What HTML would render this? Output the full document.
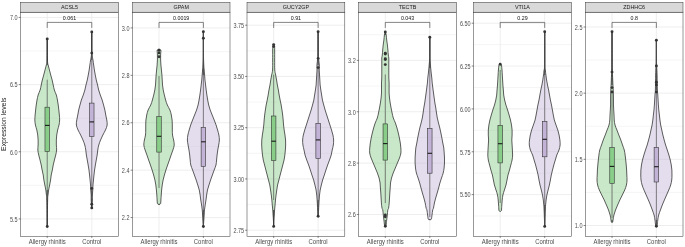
<!DOCTYPE html><html><head><meta charset="utf-8"><style>html,body{margin:0;padding:0;background:#fff;width:685px;height:247px;overflow:hidden}svg{display:block;will-change:transform}</style></head><body>
<svg width="685" height="247" viewBox="0 0 685 247" font-family='"Liberation Sans", sans-serif'>
<rect width="685" height="247" fill="#fff"/>
<text x="6.0" y="124.3" transform="rotate(-90 6.0 124.3)" text-anchor="middle" font-size="6.85" fill="#1a1a1a">Expression levels</text>
<line x1="20.50" x2="118.50" y1="51.03" y2="51.03" stroke="#ebebeb" stroke-width="0.5"/>
<line x1="20.50" x2="118.50" y1="118.18" y2="118.18" stroke="#ebebeb" stroke-width="0.5"/>
<line x1="20.50" x2="118.50" y1="185.32" y2="185.32" stroke="#ebebeb" stroke-width="0.5"/>
<line x1="20.50" x2="118.50" y1="17.45" y2="17.45" stroke="#ebebeb" stroke-width="0.85"/>
<line x1="20.50" x2="118.50" y1="84.60" y2="84.60" stroke="#ebebeb" stroke-width="0.85"/>
<line x1="20.50" x2="118.50" y1="151.75" y2="151.75" stroke="#ebebeb" stroke-width="0.85"/>
<line x1="20.50" x2="118.50" y1="218.90" y2="218.90" stroke="#ebebeb" stroke-width="0.85"/>
<line x1="47.23" x2="47.23" y1="12.20" y2="236.30" stroke="#ebebeb" stroke-width="0.85"/>
<line x1="91.77" x2="91.77" y1="12.20" y2="236.30" stroke="#ebebeb" stroke-width="0.85"/>
<path d="M47.23,38.90 C47.27,42.42 47.33,55.65 47.48,60.00 C47.63,64.35 47.80,63.33 48.13,65.00 C48.45,66.67 48.99,68.33 49.43,70.00 C49.86,71.67 50.28,73.33 50.73,75.00 C51.18,76.67 51.71,78.33 52.13,80.00 C52.54,81.67 52.86,83.33 53.23,85.00 C53.59,86.67 53.81,88.33 54.33,90.00 C54.84,91.67 55.81,93.33 56.33,95.00 C56.84,96.67 57.11,98.33 57.43,100.00 C57.74,101.67 57.99,103.33 58.23,105.00 C58.46,106.67 58.64,108.33 58.83,110.00 C59.01,111.67 59.19,113.33 59.33,115.00 C59.46,116.67 59.68,118.33 59.63,120.00 C59.58,121.67 59.36,123.33 59.03,125.00 C58.69,126.67 58.01,128.33 57.63,130.00 C57.24,131.67 56.94,133.33 56.73,135.00 C56.51,136.67 56.39,138.33 56.33,140.00 C56.26,141.67 56.28,143.33 56.33,145.00 C56.38,146.67 56.73,148.33 56.63,150.00 C56.53,151.67 56.09,153.33 55.73,155.00 C55.36,156.67 54.84,158.33 54.43,160.00 C54.01,161.67 53.58,163.33 53.23,165.00 C52.88,166.67 52.66,168.33 52.33,170.00 C51.99,171.67 51.52,173.33 51.23,175.00 C50.94,176.67 50.84,178.33 50.58,180.00 C50.31,181.67 49.95,183.33 49.63,185.00 C49.30,186.67 48.89,188.33 48.63,190.00 C48.36,191.67 48.19,193.33 48.03,195.00 C47.86,196.67 47.76,194.75 47.63,200.00 C47.49,205.25 47.29,222.08 47.23,226.50 L47.23,226.50 C47.16,222.08 46.96,205.25 46.83,200.00 C46.69,194.75 46.59,196.67 46.43,195.00 C46.26,193.33 46.09,191.67 45.83,190.00 C45.56,188.33 45.15,186.67 44.83,185.00 C44.50,183.33 44.14,181.67 43.88,180.00 C43.61,178.33 43.52,176.67 43.23,175.00 C42.94,173.33 42.46,171.67 42.13,170.00 C41.79,168.33 41.58,166.67 41.23,165.00 C40.88,163.33 40.44,161.67 40.03,160.00 C39.61,158.33 39.09,156.67 38.73,155.00 C38.36,153.33 37.93,151.67 37.83,150.00 C37.73,148.33 38.08,146.67 38.13,145.00 C38.18,143.33 38.19,141.67 38.13,140.00 C38.06,138.33 37.94,136.67 37.73,135.00 C37.51,133.33 37.21,131.67 36.83,130.00 C36.44,128.33 35.76,126.67 35.43,125.00 C35.09,123.33 34.88,121.67 34.83,120.00 C34.78,118.33 34.99,116.67 35.13,115.00 C35.26,113.33 35.44,111.67 35.63,110.00 C35.81,108.33 35.99,106.67 36.23,105.00 C36.46,103.33 36.71,101.67 37.03,100.00 C37.34,98.33 37.61,96.67 38.13,95.00 C38.64,93.33 39.61,91.67 40.13,90.00 C40.64,88.33 40.86,86.67 41.23,85.00 C41.59,83.33 41.91,81.67 42.33,80.00 C42.74,78.33 43.28,76.67 43.73,75.00 C44.18,73.33 44.59,71.67 45.03,70.00 C45.46,68.33 46.00,66.67 46.33,65.00 C46.65,63.33 46.83,64.35 46.98,60.00 C47.13,55.65 47.19,42.42 47.23,38.90 Z" fill="#7fc97f" fill-opacity="0.42" stroke="#333333" stroke-width="0.8"/>
<line x1="47.23" x2="47.23" y1="38.90" y2="65.00" stroke="#333333" stroke-width="0.9"/>
<line x1="47.23" x2="47.23" y1="190.00" y2="226.50" stroke="#333333" stroke-width="0.9"/>
<line x1="47.23" x2="47.23" y1="79.70" y2="107.20" stroke="#555555" stroke-width="0.7"/>
<line x1="47.23" x2="47.23" y1="151.40" y2="200.00" stroke="#555555" stroke-width="0.7"/>
<rect x="44.98" y="107.20" width="4.50" height="44.20" fill="#7fc97f" fill-opacity="0.88" stroke="#333333" stroke-width="0.6"/>
<line x1="44.98" x2="49.48" y1="125.40" y2="125.40" stroke="#1a1a1a" stroke-width="1.1"/>
<circle cx="47.23" cy="38.90" r="1.45" fill="#333333"/>
<circle cx="47.23" cy="226.50" r="1.45" fill="#333333"/>
<path d="M91.77,31.90 C91.81,35.42 91.77,48.32 91.97,53.00 C92.17,57.68 92.69,58.00 92.97,60.00 C93.26,62.00 93.44,63.33 93.67,65.00 C93.91,66.67 94.11,68.33 94.37,70.00 C94.64,71.67 94.96,73.33 95.27,75.00 C95.59,76.67 95.89,78.33 96.27,80.00 C96.66,81.67 97.17,83.33 97.57,85.00 C97.97,86.67 98.22,88.33 98.67,90.00 C99.12,91.67 99.69,93.33 100.27,95.00 C100.86,96.67 101.62,98.33 102.17,100.00 C102.72,101.67 103.12,103.33 103.57,105.00 C104.02,106.67 104.51,108.33 104.87,110.00 C105.24,111.67 105.46,113.33 105.77,115.00 C106.09,116.67 106.54,118.33 106.77,120.00 C107.01,121.67 107.39,123.33 107.17,125.00 C106.96,126.67 106.19,128.33 105.47,130.00 C104.76,131.67 103.69,133.33 102.87,135.00 C102.06,136.67 101.26,138.33 100.57,140.00 C99.89,141.67 99.24,143.33 98.77,145.00 C98.31,146.67 98.04,148.33 97.77,150.00 C97.51,151.67 97.42,153.33 97.17,155.00 C96.92,156.67 96.57,158.33 96.27,160.00 C95.97,161.67 95.66,163.33 95.37,165.00 C95.09,166.67 94.81,168.33 94.57,170.00 C94.34,171.67 94.16,173.33 93.97,175.00 C93.79,176.67 93.64,178.33 93.47,180.00 C93.31,181.67 93.09,183.33 92.97,185.00 C92.86,186.67 92.87,188.33 92.77,190.00 C92.67,191.67 92.44,193.33 92.37,195.00 C92.31,196.67 92.47,197.72 92.37,200.00 C92.27,202.28 91.87,207.25 91.77,208.70 L91.77,208.70 C91.67,207.25 91.27,202.28 91.17,200.00 C91.07,197.72 91.24,196.67 91.17,195.00 C91.11,193.33 90.87,191.67 90.77,190.00 C90.67,188.33 90.69,186.67 90.57,185.00 C90.46,183.33 90.24,181.67 90.07,180.00 C89.91,178.33 89.76,176.67 89.57,175.00 C89.39,173.33 89.21,171.67 88.97,170.00 C88.74,168.33 88.46,166.67 88.17,165.00 C87.89,163.33 87.57,161.67 87.27,160.00 C86.97,158.33 86.62,156.67 86.37,155.00 C86.12,153.33 86.04,151.67 85.77,150.00 C85.51,148.33 85.24,146.67 84.77,145.00 C84.31,143.33 83.66,141.67 82.97,140.00 C82.29,138.33 81.49,136.67 80.67,135.00 C79.86,133.33 78.79,131.67 78.07,130.00 C77.36,128.33 76.59,126.67 76.37,125.00 C76.16,123.33 76.54,121.67 76.77,120.00 C77.01,118.33 77.46,116.67 77.77,115.00 C78.09,113.33 78.31,111.67 78.67,110.00 C79.04,108.33 79.52,106.67 79.97,105.00 C80.42,103.33 80.82,101.67 81.37,100.00 C81.92,98.33 82.69,96.67 83.27,95.00 C83.86,93.33 84.42,91.67 84.87,90.00 C85.32,88.33 85.57,86.67 85.97,85.00 C86.37,83.33 86.89,81.67 87.27,80.00 C87.66,78.33 87.96,76.67 88.27,75.00 C88.59,73.33 88.91,71.67 89.17,70.00 C89.44,68.33 89.64,66.67 89.87,65.00 C90.11,63.33 90.29,62.00 90.57,60.00 C90.86,58.00 91.37,57.68 91.57,53.00 C91.77,48.32 91.74,35.42 91.77,31.90 Z" fill="#beaed4" fill-opacity="0.42" stroke="#333333" stroke-width="0.8"/>
<line x1="91.77" x2="91.77" y1="31.90" y2="60.00" stroke="#333333" stroke-width="0.9"/>
<line x1="91.77" x2="91.77" y1="190.00" y2="208.70" stroke="#333333" stroke-width="0.9"/>
<line x1="91.77" x2="91.77" y1="53.10" y2="103.10" stroke="#555555" stroke-width="0.7"/>
<line x1="91.77" x2="91.77" y1="136.40" y2="188.50" stroke="#555555" stroke-width="0.7"/>
<rect x="89.52" y="103.10" width="4.50" height="33.30" fill="#beaed4" fill-opacity="0.88" stroke="#333333" stroke-width="0.6"/>
<line x1="89.52" x2="94.02" y1="121.90" y2="121.90" stroke="#1a1a1a" stroke-width="1.1"/>
<circle cx="91.77" cy="31.90" r="1.45" fill="#333333"/>
<circle cx="91.77" cy="53.10" r="1.45" fill="#333333"/>
<circle cx="91.77" cy="188.50" r="1.45" fill="#333333"/>
<circle cx="91.77" cy="204.30" r="1.45" fill="#333333"/>
<circle cx="91.77" cy="207.90" r="1.45" fill="#333333"/>
<path d="M47.23,27.90 V22.40 H91.77 V27.90" fill="none" stroke="#333333" stroke-width="0.6"/>
<text x="69.50" y="0" transform="translate(0 20.25) scale(1 1.12)" text-anchor="middle" font-size="5.3" fill="#111">0.061</text>
<rect x="20.50" y="12.20" width="98.00" height="224.10" fill="none" stroke="#333333" stroke-width="0.5"/>
<rect x="20.50" y="2.30" width="98.00" height="9.90" fill="#d9d9d9" stroke="#333333" stroke-width="0.5"/>
<text x="69.50" y="9.1" text-anchor="middle" font-size="5.4" fill="#1a1a1a">ACSL5</text>
<line x1="18.70" x2="20.50" y1="17.45" y2="17.45" stroke="#333333" stroke-width="0.6"/>
<text x="17.60" y="0" transform="translate(0 20.20) scale(1 1.200)" text-anchor="end" font-size="5.5" fill="#4d4d4d">7.0</text>
<line x1="18.70" x2="20.50" y1="84.60" y2="84.60" stroke="#333333" stroke-width="0.6"/>
<text x="17.60" y="0" transform="translate(0 87.35) scale(1 1.200)" text-anchor="end" font-size="5.5" fill="#4d4d4d">6.5</text>
<line x1="18.70" x2="20.50" y1="151.75" y2="151.75" stroke="#333333" stroke-width="0.6"/>
<text x="17.60" y="0" transform="translate(0 154.50) scale(1 1.200)" text-anchor="end" font-size="5.5" fill="#4d4d4d">6.0</text>
<line x1="18.70" x2="20.50" y1="218.90" y2="218.90" stroke="#333333" stroke-width="0.6"/>
<text x="17.60" y="0" transform="translate(0 221.65) scale(1 1.200)" text-anchor="end" font-size="5.5" fill="#4d4d4d">5.5</text>
<line x1="47.23" x2="47.23" y1="236.30" y2="237.90" stroke="#333333" stroke-width="0.6"/>
<text x="47.23" y="0" transform="translate(0 243.75) scale(1 1.130)" text-anchor="middle" font-size="5.95" fill="#4d4d4d">Allergy rhinitis</text>
<line x1="91.77" x2="91.77" y1="236.30" y2="237.90" stroke="#333333" stroke-width="0.6"/>
<text x="91.77" y="0" transform="translate(0 243.75) scale(1 1.130)" text-anchor="middle" font-size="5.95" fill="#4d4d4d">Control</text>
<line x1="132.40" x2="230.00" y1="51.61" y2="51.61" stroke="#ebebeb" stroke-width="0.5"/>
<line x1="132.40" x2="230.00" y1="99.03" y2="99.03" stroke="#ebebeb" stroke-width="0.5"/>
<line x1="132.40" x2="230.00" y1="146.45" y2="146.45" stroke="#ebebeb" stroke-width="0.5"/>
<line x1="132.40" x2="230.00" y1="193.87" y2="193.87" stroke="#ebebeb" stroke-width="0.5"/>
<line x1="132.40" x2="230.00" y1="27.90" y2="27.90" stroke="#ebebeb" stroke-width="0.85"/>
<line x1="132.40" x2="230.00" y1="75.32" y2="75.32" stroke="#ebebeb" stroke-width="0.85"/>
<line x1="132.40" x2="230.00" y1="122.74" y2="122.74" stroke="#ebebeb" stroke-width="0.85"/>
<line x1="132.40" x2="230.00" y1="170.16" y2="170.16" stroke="#ebebeb" stroke-width="0.85"/>
<line x1="132.40" x2="230.00" y1="217.58" y2="217.58" stroke="#ebebeb" stroke-width="0.85"/>
<line x1="159.02" x2="159.02" y1="12.20" y2="236.30" stroke="#ebebeb" stroke-width="0.85"/>
<line x1="203.38" x2="203.38" y1="12.20" y2="236.30" stroke="#ebebeb" stroke-width="0.85"/>
<path d="M159.42,49.30 C159.58,49.38 160.17,49.60 160.42,49.80 C160.67,50.00 160.88,49.63 160.92,50.50 C160.95,51.37 160.67,53.42 160.62,55.00 C160.57,56.58 160.57,58.33 160.62,60.00 C160.67,61.67 160.78,63.33 160.92,65.00 C161.05,66.67 161.25,68.33 161.42,70.00 C161.58,71.67 161.78,73.33 161.92,75.00 C162.05,76.67 162.12,78.33 162.22,80.00 C162.32,81.67 162.35,83.33 162.52,85.00 C162.68,86.67 162.92,88.33 163.22,90.00 C163.52,91.67 163.92,93.33 164.32,95.00 C164.72,96.67 165.12,98.33 165.62,100.00 C166.12,101.67 166.60,103.33 167.32,105.00 C168.03,106.67 169.25,108.33 169.92,110.00 C170.58,111.67 170.95,113.33 171.32,115.00 C171.68,116.67 171.95,118.33 172.12,120.00 C172.28,121.67 172.28,123.33 172.32,125.00 C172.35,126.67 172.28,128.33 172.32,130.00 C172.35,131.67 172.30,133.33 172.52,135.00 C172.73,136.67 173.33,138.33 173.62,140.00 C173.90,141.67 174.33,143.33 174.22,145.00 C174.10,146.67 173.43,148.33 172.92,150.00 C172.40,151.67 171.70,153.33 171.12,155.00 C170.53,156.67 170.00,158.33 169.42,160.00 C168.83,161.67 168.20,163.33 167.62,165.00 C167.03,166.67 166.45,168.33 165.92,170.00 C165.38,171.67 164.88,173.33 164.42,175.00 C163.95,176.67 163.48,178.33 163.12,180.00 C162.75,181.67 162.47,183.33 162.22,185.00 C161.97,186.67 161.78,188.33 161.62,190.00 C161.45,191.67 161.33,193.33 161.22,195.00 C161.10,196.67 161.02,198.58 160.92,200.00 C160.82,201.42 160.83,202.75 160.62,203.50 C160.40,204.25 159.78,204.33 159.62,204.50 L158.42,204.50 C158.25,204.33 157.63,204.25 157.42,203.50 C157.20,202.75 157.22,201.42 157.12,200.00 C157.02,198.58 156.93,196.67 156.82,195.00 C156.70,193.33 156.58,191.67 156.42,190.00 C156.25,188.33 156.07,186.67 155.82,185.00 C155.57,183.33 155.28,181.67 154.92,180.00 C154.55,178.33 154.08,176.67 153.62,175.00 C153.15,173.33 152.65,171.67 152.12,170.00 C151.58,168.33 151.00,166.67 150.42,165.00 C149.83,163.33 149.20,161.67 148.62,160.00 C148.03,158.33 147.50,156.67 146.92,155.00 C146.33,153.33 145.63,151.67 145.12,150.00 C144.60,148.33 143.93,146.67 143.82,145.00 C143.70,143.33 144.13,141.67 144.42,140.00 C144.70,138.33 145.30,136.67 145.52,135.00 C145.73,133.33 145.68,131.67 145.72,130.00 C145.75,128.33 145.68,126.67 145.72,125.00 C145.75,123.33 145.75,121.67 145.92,120.00 C146.08,118.33 146.35,116.67 146.72,115.00 C147.08,113.33 147.45,111.67 148.12,110.00 C148.78,108.33 150.00,106.67 150.72,105.00 C151.43,103.33 151.92,101.67 152.42,100.00 C152.92,98.33 153.32,96.67 153.72,95.00 C154.12,93.33 154.52,91.67 154.82,90.00 C155.12,88.33 155.35,86.67 155.52,85.00 C155.68,83.33 155.72,81.67 155.82,80.00 C155.92,78.33 155.98,76.67 156.12,75.00 C156.25,73.33 156.45,71.67 156.62,70.00 C156.78,68.33 156.98,66.67 157.12,65.00 C157.25,63.33 157.37,61.67 157.42,60.00 C157.47,58.33 157.47,56.58 157.42,55.00 C157.37,53.42 157.08,51.37 157.12,50.50 C157.15,49.63 157.37,50.00 157.62,49.80 C157.87,49.60 158.45,49.38 158.62,49.30 Z" fill="#7fc97f" fill-opacity="0.42" stroke="#333333" stroke-width="0.8"/>
<line x1="159.02" x2="159.02" y1="203.50" y2="204.50" stroke="#333333" stroke-width="0.9"/>
<line x1="159.02" x2="159.02" y1="76.00" y2="116.60" stroke="#555555" stroke-width="0.7"/>
<line x1="159.02" x2="159.02" y1="152.10" y2="188.00" stroke="#555555" stroke-width="0.7"/>
<rect x="156.77" y="116.60" width="4.50" height="35.50" fill="#7fc97f" fill-opacity="0.88" stroke="#333333" stroke-width="0.6"/>
<line x1="156.77" x2="161.27" y1="136.30" y2="136.30" stroke="#1a1a1a" stroke-width="1.1"/>
<circle cx="159.02" cy="50.30" r="1.45" fill="#333333"/>
<circle cx="159.02" cy="52.90" r="1.45" fill="#333333"/>
<circle cx="159.02" cy="56.80" r="1.45" fill="#333333"/>
<path d="M203.38,31.80 C203.40,35.67 203.42,49.52 203.48,55.00 C203.55,60.48 203.67,62.20 203.78,64.70 C203.90,67.20 204.05,68.28 204.18,70.00 C204.32,71.72 204.45,73.33 204.58,75.00 C204.72,76.67 204.82,78.33 204.98,80.00 C205.15,81.67 205.38,83.33 205.58,85.00 C205.78,86.67 205.97,88.33 206.18,90.00 C206.40,91.67 206.63,93.33 206.88,95.00 C207.13,96.67 207.38,98.33 207.68,100.00 C207.98,101.67 208.27,103.33 208.68,105.00 C209.10,106.67 209.60,108.33 210.18,110.00 C210.77,111.67 211.52,113.33 212.18,115.00 C212.85,116.67 213.53,118.33 214.18,120.00 C214.83,121.67 215.52,123.33 216.08,125.00 C216.65,126.67 217.12,128.33 217.58,130.00 C218.05,131.67 218.58,133.33 218.88,135.00 C219.18,136.67 219.42,138.33 219.38,140.00 C219.35,141.67 218.95,143.33 218.68,145.00 C218.42,146.67 218.05,148.33 217.78,150.00 C217.52,151.67 217.28,153.33 217.08,155.00 C216.88,156.67 216.77,158.33 216.58,160.00 C216.40,161.67 216.38,163.33 215.98,165.00 C215.58,166.67 214.78,168.33 214.18,170.00 C213.58,171.67 212.98,173.33 212.38,175.00 C211.78,176.67 211.15,178.33 210.58,180.00 C210.02,181.67 209.50,183.33 208.98,185.00 C208.47,186.67 207.87,188.33 207.48,190.00 C207.09,191.67 206.88,193.33 206.63,195.00 C206.38,196.67 206.22,198.33 205.98,200.00 C205.74,201.67 205.43,203.33 205.18,205.00 C204.93,206.67 204.65,208.33 204.48,210.00 C204.32,211.67 204.29,213.33 204.18,215.00 C204.07,216.67 203.97,218.08 203.83,220.00 C203.70,221.92 203.46,225.42 203.38,226.50 L203.38,226.50 C203.31,225.42 203.07,221.92 202.93,220.00 C202.80,218.08 202.69,216.67 202.58,215.00 C202.47,213.33 202.45,211.67 202.28,210.00 C202.12,208.33 201.83,206.67 201.58,205.00 C201.33,203.33 201.02,201.67 200.78,200.00 C200.54,198.33 200.38,196.67 200.13,195.00 C199.88,193.33 199.67,191.67 199.28,190.00 C198.89,188.33 198.30,186.67 197.78,185.00 C197.27,183.33 196.75,181.67 196.18,180.00 C195.62,178.33 194.98,176.67 194.38,175.00 C193.78,173.33 193.18,171.67 192.58,170.00 C191.98,168.33 191.18,166.67 190.78,165.00 C190.38,163.33 190.37,161.67 190.18,160.00 C190.00,158.33 189.88,156.67 189.68,155.00 C189.48,153.33 189.25,151.67 188.98,150.00 C188.72,148.33 188.35,146.67 188.08,145.00 C187.82,143.33 187.42,141.67 187.38,140.00 C187.35,138.33 187.58,136.67 187.88,135.00 C188.18,133.33 188.72,131.67 189.18,130.00 C189.65,128.33 190.12,126.67 190.68,125.00 C191.25,123.33 191.93,121.67 192.58,120.00 C193.23,118.33 193.92,116.67 194.58,115.00 C195.25,113.33 196.00,111.67 196.58,110.00 C197.17,108.33 197.67,106.67 198.08,105.00 C198.50,103.33 198.78,101.67 199.08,100.00 C199.38,98.33 199.63,96.67 199.88,95.00 C200.13,93.33 200.37,91.67 200.58,90.00 C200.80,88.33 200.98,86.67 201.18,85.00 C201.38,83.33 201.62,81.67 201.78,80.00 C201.95,78.33 202.05,76.67 202.18,75.00 C202.32,73.33 202.45,71.72 202.58,70.00 C202.72,68.28 202.87,67.20 202.98,64.70 C203.10,62.20 203.22,60.48 203.28,55.00 C203.35,49.52 203.37,35.67 203.38,31.80 Z" fill="#beaed4" fill-opacity="0.42" stroke="#333333" stroke-width="0.8"/>
<line x1="203.38" x2="203.38" y1="31.80" y2="75.00" stroke="#333333" stroke-width="0.9"/>
<line x1="203.38" x2="203.38" y1="210.00" y2="226.50" stroke="#333333" stroke-width="0.9"/>
<line x1="203.38" x2="203.38" y1="31.80" y2="127.30" stroke="#555555" stroke-width="0.7"/>
<line x1="203.38" x2="203.38" y1="166.30" y2="226.50" stroke="#555555" stroke-width="0.7"/>
<rect x="201.13" y="127.30" width="4.50" height="39.00" fill="#beaed4" fill-opacity="0.88" stroke="#333333" stroke-width="0.6"/>
<line x1="201.13" x2="205.63" y1="141.80" y2="141.80" stroke="#1a1a1a" stroke-width="1.1"/>
<circle cx="203.38" cy="31.80" r="1.45" fill="#333333"/>
<circle cx="203.38" cy="38.30" r="1.45" fill="#333333"/>
<circle cx="203.38" cy="226.50" r="1.45" fill="#333333"/>
<path d="M159.02,27.90 V22.40 H203.38 V27.90" fill="none" stroke="#333333" stroke-width="0.6"/>
<text x="181.20" y="0" transform="translate(0 20.25) scale(1 1.12)" text-anchor="middle" font-size="5.3" fill="#111">0.0019</text>
<rect x="132.40" y="12.20" width="97.60" height="224.10" fill="none" stroke="#333333" stroke-width="0.5"/>
<rect x="132.40" y="2.30" width="97.60" height="9.90" fill="#d9d9d9" stroke="#333333" stroke-width="0.5"/>
<text x="181.20" y="9.1" text-anchor="middle" font-size="5.4" fill="#1a1a1a">GPAM</text>
<line x1="130.60" x2="132.40" y1="27.90" y2="27.90" stroke="#333333" stroke-width="0.6"/>
<text x="129.50" y="0" transform="translate(0 30.65) scale(1 1.200)" text-anchor="end" font-size="5.5" fill="#4d4d4d">3.0</text>
<line x1="130.60" x2="132.40" y1="75.32" y2="75.32" stroke="#333333" stroke-width="0.6"/>
<text x="129.50" y="0" transform="translate(0 78.07) scale(1 1.200)" text-anchor="end" font-size="5.5" fill="#4d4d4d">2.8</text>
<line x1="130.60" x2="132.40" y1="122.74" y2="122.74" stroke="#333333" stroke-width="0.6"/>
<text x="129.50" y="0" transform="translate(0 125.49) scale(1 1.200)" text-anchor="end" font-size="5.5" fill="#4d4d4d">2.6</text>
<line x1="130.60" x2="132.40" y1="170.16" y2="170.16" stroke="#333333" stroke-width="0.6"/>
<text x="129.50" y="0" transform="translate(0 172.91) scale(1 1.200)" text-anchor="end" font-size="5.5" fill="#4d4d4d">2.4</text>
<line x1="130.60" x2="132.40" y1="217.58" y2="217.58" stroke="#333333" stroke-width="0.6"/>
<text x="129.50" y="0" transform="translate(0 220.33) scale(1 1.200)" text-anchor="end" font-size="5.5" fill="#4d4d4d">2.2</text>
<line x1="159.02" x2="159.02" y1="236.30" y2="237.90" stroke="#333333" stroke-width="0.6"/>
<text x="159.02" y="0" transform="translate(0 243.75) scale(1 1.130)" text-anchor="middle" font-size="5.95" fill="#4d4d4d">Allergy rhinitis</text>
<line x1="203.38" x2="203.38" y1="236.30" y2="237.90" stroke="#333333" stroke-width="0.6"/>
<text x="203.38" y="0" transform="translate(0 243.75) scale(1 1.130)" text-anchor="middle" font-size="5.95" fill="#4d4d4d">Control</text>
<line x1="247.00" x2="344.80" y1="50.83" y2="50.83" stroke="#ebebeb" stroke-width="0.5"/>
<line x1="247.00" x2="344.80" y1="102.08" y2="102.08" stroke="#ebebeb" stroke-width="0.5"/>
<line x1="247.00" x2="344.80" y1="153.32" y2="153.32" stroke="#ebebeb" stroke-width="0.5"/>
<line x1="247.00" x2="344.80" y1="204.57" y2="204.57" stroke="#ebebeb" stroke-width="0.5"/>
<line x1="247.00" x2="344.80" y1="25.20" y2="25.20" stroke="#ebebeb" stroke-width="0.85"/>
<line x1="247.00" x2="344.80" y1="76.45" y2="76.45" stroke="#ebebeb" stroke-width="0.85"/>
<line x1="247.00" x2="344.80" y1="127.70" y2="127.70" stroke="#ebebeb" stroke-width="0.85"/>
<line x1="247.00" x2="344.80" y1="178.95" y2="178.95" stroke="#ebebeb" stroke-width="0.85"/>
<line x1="247.00" x2="344.80" y1="230.20" y2="230.20" stroke="#ebebeb" stroke-width="0.85"/>
<line x1="273.67" x2="273.67" y1="12.20" y2="236.30" stroke="#ebebeb" stroke-width="0.85"/>
<line x1="318.13" x2="318.13" y1="12.20" y2="236.30" stroke="#ebebeb" stroke-width="0.85"/>
<path d="M274.07,44.40 C274.16,44.83 274.47,46.07 274.57,47.00 C274.67,47.93 274.66,47.83 274.67,50.00 C274.69,52.17 274.66,56.67 274.67,60.00 C274.69,63.33 274.61,67.50 274.77,70.00 C274.94,72.50 275.37,73.33 275.67,75.00 C275.97,76.67 276.29,78.33 276.57,80.00 C276.86,81.67 277.07,83.33 277.37,85.00 C277.67,86.67 278.07,88.33 278.37,90.00 C278.67,91.67 278.88,93.33 279.17,95.00 C279.46,96.67 279.79,98.33 280.12,100.00 C280.46,101.67 280.86,103.33 281.17,105.00 C281.48,106.67 281.72,108.33 281.97,110.00 C282.22,111.67 282.47,113.33 282.67,115.00 C282.87,116.67 283.02,118.33 283.17,120.00 C283.32,121.67 283.41,123.33 283.57,125.00 C283.74,126.67 283.94,128.33 284.17,130.00 C284.41,131.67 284.74,133.33 284.97,135.00 C285.21,136.67 285.46,138.33 285.57,140.00 C285.69,141.67 285.71,143.33 285.67,145.00 C285.64,146.67 285.51,148.33 285.37,150.00 C285.24,151.67 285.09,153.33 284.87,155.00 C284.66,156.67 284.42,158.33 284.07,160.00 C283.72,161.67 283.21,163.33 282.77,165.00 C282.34,166.67 281.91,168.33 281.47,170.00 C281.04,171.67 280.61,173.33 280.17,175.00 C279.74,176.67 279.31,178.33 278.87,180.00 C278.44,181.67 277.92,183.33 277.57,185.00 C277.22,186.67 277.02,188.33 276.77,190.00 C276.52,191.67 276.29,193.33 276.07,195.00 C275.86,196.67 275.64,198.33 275.47,200.00 C275.31,201.67 275.22,203.33 275.07,205.00 C274.92,206.67 274.71,208.33 274.57,210.00 C274.44,211.67 274.38,213.33 274.27,215.00 C274.16,216.67 274.02,218.10 273.92,220.00 C273.82,221.90 273.71,225.33 273.67,226.40 L273.67,226.40 C273.63,225.33 273.52,221.90 273.42,220.00 C273.32,218.10 273.18,216.67 273.07,215.00 C272.96,213.33 272.91,211.67 272.77,210.00 C272.64,208.33 272.42,206.67 272.27,205.00 C272.12,203.33 272.04,201.67 271.87,200.00 C271.71,198.33 271.49,196.67 271.27,195.00 C271.06,193.33 270.82,191.67 270.57,190.00 C270.32,188.33 270.12,186.67 269.77,185.00 C269.42,183.33 268.91,181.67 268.47,180.00 C268.04,178.33 267.61,176.67 267.17,175.00 C266.74,173.33 266.31,171.67 265.87,170.00 C265.44,168.33 265.01,166.67 264.57,165.00 C264.14,163.33 263.62,161.67 263.27,160.00 C262.92,158.33 262.69,156.67 262.47,155.00 C262.26,153.33 262.11,151.67 261.97,150.00 C261.84,148.33 261.71,146.67 261.67,145.00 C261.64,143.33 261.66,141.67 261.77,140.00 C261.89,138.33 262.14,136.67 262.37,135.00 C262.61,133.33 262.94,131.67 263.17,130.00 C263.41,128.33 263.61,126.67 263.77,125.00 C263.94,123.33 264.02,121.67 264.17,120.00 C264.32,118.33 264.47,116.67 264.67,115.00 C264.87,113.33 265.12,111.67 265.37,110.00 C265.62,108.33 265.86,106.67 266.17,105.00 C266.48,103.33 266.89,101.67 267.22,100.00 C267.56,98.33 267.88,96.67 268.17,95.00 C268.46,93.33 268.67,91.67 268.97,90.00 C269.27,88.33 269.67,86.67 269.97,85.00 C270.27,83.33 270.49,81.67 270.77,80.00 C271.06,78.33 271.37,76.67 271.67,75.00 C271.97,73.33 272.41,72.50 272.57,70.00 C272.74,67.50 272.66,63.33 272.67,60.00 C272.69,56.67 272.66,52.17 272.67,50.00 C272.69,47.83 272.67,47.93 272.77,47.00 C272.87,46.07 273.19,44.83 273.27,44.40 Z" fill="#7fc97f" fill-opacity="0.42" stroke="#333333" stroke-width="0.8"/>
<line x1="273.67" x2="273.67" y1="44.40" y2="47.00" stroke="#333333" stroke-width="0.9"/>
<line x1="273.67" x2="273.67" y1="210.00" y2="226.40" stroke="#333333" stroke-width="0.9"/>
<line x1="273.67" x2="273.67" y1="74.60" y2="116.00" stroke="#555555" stroke-width="0.7"/>
<line x1="273.67" x2="273.67" y1="160.40" y2="200.00" stroke="#555555" stroke-width="0.7"/>
<rect x="271.42" y="116.00" width="4.50" height="44.40" fill="#7fc97f" fill-opacity="0.88" stroke="#333333" stroke-width="0.6"/>
<line x1="271.42" x2="275.92" y1="141.20" y2="141.20" stroke="#1a1a1a" stroke-width="1.1"/>
<circle cx="273.67" cy="44.60" r="1.45" fill="#333333"/>
<circle cx="273.67" cy="46.60" r="1.45" fill="#333333"/>
<circle cx="273.67" cy="226.40" r="1.45" fill="#333333"/>
<path d="M318.13,31.80 C318.16,35.67 318.23,50.30 318.33,55.00 C318.43,59.70 318.56,58.33 318.73,60.00 C318.89,61.67 319.24,63.33 319.33,65.00 C319.41,66.67 319.19,68.33 319.23,70.00 C319.26,71.67 319.43,73.33 319.53,75.00 C319.63,76.67 319.73,78.33 319.83,80.00 C319.93,81.67 319.96,83.33 320.13,85.00 C320.29,86.67 320.58,88.33 320.83,90.00 C321.08,91.67 321.36,93.33 321.63,95.00 C321.89,96.67 322.08,98.33 322.43,100.00 C322.78,101.67 323.28,103.33 323.73,105.00 C324.18,106.67 324.63,108.33 325.13,110.00 C325.63,111.67 326.19,113.33 326.73,115.00 C327.26,116.67 327.79,118.33 328.33,120.00 C328.86,121.67 329.39,123.33 329.93,125.00 C330.46,126.67 331.03,128.33 331.53,130.00 C332.03,131.67 332.58,133.33 332.93,135.00 C333.28,136.67 333.56,138.33 333.63,140.00 C333.69,141.67 333.56,143.33 333.33,145.00 C333.09,146.67 332.58,148.33 332.23,150.00 C331.88,151.67 331.68,153.33 331.23,155.00 C330.78,156.67 330.13,158.33 329.53,160.00 C328.93,161.67 328.23,163.33 327.63,165.00 C327.03,166.67 326.48,168.33 325.93,170.00 C325.38,171.67 324.88,173.33 324.33,175.00 C323.78,176.67 323.13,178.33 322.63,180.00 C322.13,181.67 321.74,183.33 321.33,185.00 C320.92,186.67 320.48,188.33 320.18,190.00 C319.88,191.67 319.70,193.33 319.53,195.00 C319.35,196.67 319.24,198.33 319.13,200.00 C319.01,201.67 318.92,203.33 318.83,205.00 C318.74,206.67 318.69,208.12 318.58,210.00 C318.46,211.88 318.20,215.25 318.13,216.30 L318.13,216.30 C318.05,215.25 317.79,211.88 317.68,210.00 C317.56,208.12 317.52,206.67 317.43,205.00 C317.34,203.33 317.24,201.67 317.13,200.00 C317.01,198.33 316.90,196.67 316.73,195.00 C316.55,193.33 316.38,191.67 316.08,190.00 C315.78,188.33 315.34,186.67 314.93,185.00 C314.52,183.33 314.13,181.67 313.63,180.00 C313.13,178.33 312.48,176.67 311.93,175.00 C311.38,173.33 310.88,171.67 310.33,170.00 C309.78,168.33 309.23,166.67 308.63,165.00 C308.03,163.33 307.33,161.67 306.73,160.00 C306.13,158.33 305.48,156.67 305.03,155.00 C304.58,153.33 304.38,151.67 304.03,150.00 C303.68,148.33 303.16,146.67 302.93,145.00 C302.69,143.33 302.56,141.67 302.63,140.00 C302.69,138.33 302.98,136.67 303.33,135.00 C303.68,133.33 304.23,131.67 304.73,130.00 C305.23,128.33 305.79,126.67 306.33,125.00 C306.86,123.33 307.39,121.67 307.93,120.00 C308.46,118.33 308.99,116.67 309.53,115.00 C310.06,113.33 310.63,111.67 311.13,110.00 C311.63,108.33 312.08,106.67 312.53,105.00 C312.98,103.33 313.48,101.67 313.83,100.00 C314.18,98.33 314.36,96.67 314.63,95.00 C314.89,93.33 315.18,91.67 315.43,90.00 C315.68,88.33 315.96,86.67 316.13,85.00 C316.29,83.33 316.33,81.67 316.43,80.00 C316.53,78.33 316.63,76.67 316.73,75.00 C316.83,73.33 316.99,71.67 317.03,70.00 C317.06,68.33 316.84,66.67 316.93,65.00 C317.01,63.33 317.36,61.67 317.53,60.00 C317.69,58.33 317.83,59.70 317.93,55.00 C318.03,50.30 318.09,35.67 318.13,31.80 Z" fill="#beaed4" fill-opacity="0.42" stroke="#333333" stroke-width="0.8"/>
<line x1="318.13" x2="318.13" y1="31.80" y2="65.00" stroke="#333333" stroke-width="0.9"/>
<line x1="318.13" x2="318.13" y1="200.00" y2="216.30" stroke="#333333" stroke-width="0.9"/>
<line x1="318.13" x2="318.13" y1="31.80" y2="123.40" stroke="#555555" stroke-width="0.7"/>
<line x1="318.13" x2="318.13" y1="158.30" y2="216.30" stroke="#555555" stroke-width="0.7"/>
<rect x="315.88" y="123.40" width="4.50" height="34.90" fill="#beaed4" fill-opacity="0.88" stroke="#333333" stroke-width="0.6"/>
<line x1="315.88" x2="320.38" y1="139.90" y2="139.90" stroke="#1a1a1a" stroke-width="1.1"/>
<circle cx="318.13" cy="31.80" r="1.45" fill="#333333"/>
<circle cx="318.13" cy="58.40" r="1.45" fill="#333333"/>
<circle cx="318.13" cy="67.60" r="1.45" fill="#333333"/>
<circle cx="318.13" cy="216.30" r="1.45" fill="#333333"/>
<path d="M273.67,27.90 V22.40 H318.13 V27.90" fill="none" stroke="#333333" stroke-width="0.6"/>
<text x="295.90" y="0" transform="translate(0 20.25) scale(1 1.12)" text-anchor="middle" font-size="5.3" fill="#111">0.91</text>
<rect x="247.00" y="12.20" width="97.80" height="224.10" fill="none" stroke="#333333" stroke-width="0.5"/>
<rect x="247.00" y="2.30" width="97.80" height="9.90" fill="#d9d9d9" stroke="#333333" stroke-width="0.5"/>
<text x="295.90" y="9.1" text-anchor="middle" font-size="5.4" fill="#1a1a1a">GUCY2GP</text>
<line x1="245.20" x2="247.00" y1="25.20" y2="25.20" stroke="#333333" stroke-width="0.6"/>
<text x="244.10" y="0" transform="translate(0 27.95) scale(1 1.200)" text-anchor="end" font-size="5.5" fill="#4d4d4d">3.75</text>
<line x1="245.20" x2="247.00" y1="76.45" y2="76.45" stroke="#333333" stroke-width="0.6"/>
<text x="244.10" y="0" transform="translate(0 79.20) scale(1 1.200)" text-anchor="end" font-size="5.5" fill="#4d4d4d">3.50</text>
<line x1="245.20" x2="247.00" y1="127.70" y2="127.70" stroke="#333333" stroke-width="0.6"/>
<text x="244.10" y="0" transform="translate(0 130.45) scale(1 1.200)" text-anchor="end" font-size="5.5" fill="#4d4d4d">3.25</text>
<line x1="245.20" x2="247.00" y1="178.95" y2="178.95" stroke="#333333" stroke-width="0.6"/>
<text x="244.10" y="0" transform="translate(0 181.70) scale(1 1.200)" text-anchor="end" font-size="5.5" fill="#4d4d4d">3.00</text>
<line x1="245.20" x2="247.00" y1="230.20" y2="230.20" stroke="#333333" stroke-width="0.6"/>
<text x="244.10" y="0" transform="translate(0 232.95) scale(1 1.200)" text-anchor="end" font-size="5.5" fill="#4d4d4d">2.75</text>
<line x1="273.67" x2="273.67" y1="236.30" y2="237.90" stroke="#333333" stroke-width="0.6"/>
<text x="273.67" y="0" transform="translate(0 243.75) scale(1 1.130)" text-anchor="middle" font-size="5.95" fill="#4d4d4d">Allergy rhinitis</text>
<line x1="318.13" x2="318.13" y1="236.30" y2="237.90" stroke="#333333" stroke-width="0.6"/>
<text x="318.13" y="0" transform="translate(0 243.75) scale(1 1.130)" text-anchor="middle" font-size="5.95" fill="#4d4d4d">Control</text>
<line x1="358.60" x2="456.50" y1="86.08" y2="86.08" stroke="#ebebeb" stroke-width="0.5"/>
<line x1="358.60" x2="456.50" y1="137.44" y2="137.44" stroke="#ebebeb" stroke-width="0.5"/>
<line x1="358.60" x2="456.50" y1="188.80" y2="188.80" stroke="#ebebeb" stroke-width="0.5"/>
<line x1="358.60" x2="456.50" y1="34.72" y2="34.72" stroke="#ebebeb" stroke-width="0.5"/>
<line x1="358.60" x2="456.50" y1="60.40" y2="60.40" stroke="#ebebeb" stroke-width="0.85"/>
<line x1="358.60" x2="456.50" y1="111.76" y2="111.76" stroke="#ebebeb" stroke-width="0.85"/>
<line x1="358.60" x2="456.50" y1="163.12" y2="163.12" stroke="#ebebeb" stroke-width="0.85"/>
<line x1="358.60" x2="456.50" y1="214.48" y2="214.48" stroke="#ebebeb" stroke-width="0.85"/>
<line x1="385.30" x2="385.30" y1="12.20" y2="236.30" stroke="#ebebeb" stroke-width="0.85"/>
<line x1="429.80" x2="429.80" y1="12.20" y2="236.30" stroke="#ebebeb" stroke-width="0.85"/>
<path d="M385.40,31.90 C385.53,32.42 385.98,33.65 386.20,35.00 C386.42,36.35 386.50,38.33 386.70,40.00 C386.90,41.67 387.20,43.33 387.40,45.00 C387.60,46.67 387.75,48.33 387.90,50.00 C388.05,51.67 388.15,53.67 388.30,55.00 C388.45,56.33 388.72,56.67 388.80,58.00 C388.88,59.33 388.80,61.33 388.80,63.00 C388.80,64.67 388.80,66.33 388.80,68.00 C388.80,69.67 388.79,71.33 388.80,73.00 C388.81,74.67 388.80,76.33 388.85,78.00 C388.90,79.67 389.06,81.33 389.10,83.00 C389.14,84.67 389.10,86.33 389.10,88.00 C389.10,89.67 389.03,91.33 389.10,93.00 C389.17,94.67 389.32,96.33 389.50,98.00 C389.68,99.67 389.93,101.33 390.20,103.00 C390.47,104.67 390.78,106.33 391.10,108.00 C391.42,109.67 391.73,111.33 392.10,113.00 C392.47,114.67 392.75,116.33 393.30,118.00 C393.85,119.67 394.78,121.33 395.40,123.00 C396.02,124.67 396.52,126.33 397.00,128.00 C397.48,129.67 397.90,131.33 398.30,133.00 C398.70,134.67 399.07,136.33 399.40,138.00 C399.73,139.67 400.06,141.33 400.30,143.00 C400.54,144.67 400.75,146.33 400.85,148.00 C400.95,149.67 401.13,151.33 400.90,153.00 C400.68,154.67 400.08,156.33 399.50,158.00 C398.92,159.67 398.10,161.33 397.40,163.00 C396.70,164.67 396.00,166.33 395.30,168.00 C394.60,169.67 393.83,171.33 393.20,173.00 C392.57,174.67 391.95,176.33 391.50,178.00 C391.05,179.67 390.72,181.33 390.50,183.00 C390.28,184.67 390.32,186.33 390.20,188.00 C390.08,189.67 389.92,191.33 389.80,193.00 C389.68,194.67 389.60,196.33 389.50,198.00 C389.40,199.67 389.35,201.33 389.20,203.00 C389.05,204.67 388.83,206.83 388.60,208.00 C388.37,209.17 388.02,208.83 387.80,210.00 C387.58,211.17 387.48,213.33 387.30,215.00 C387.12,216.67 386.90,218.33 386.70,220.00 C386.50,221.67 386.32,223.88 386.10,225.00 C385.88,226.12 385.52,226.42 385.40,226.70 L385.20,226.70 C385.08,226.42 384.72,226.12 384.50,225.00 C384.28,223.88 384.10,221.67 383.90,220.00 C383.70,218.33 383.48,216.67 383.30,215.00 C383.12,213.33 383.02,211.17 382.80,210.00 C382.58,208.83 382.23,209.17 382.00,208.00 C381.77,206.83 381.55,204.67 381.40,203.00 C381.25,201.33 381.20,199.67 381.10,198.00 C381.00,196.33 380.92,194.67 380.80,193.00 C380.68,191.33 380.52,189.67 380.40,188.00 C380.28,186.33 380.32,184.67 380.10,183.00 C379.88,181.33 379.55,179.67 379.10,178.00 C378.65,176.33 378.03,174.67 377.40,173.00 C376.77,171.33 376.00,169.67 375.30,168.00 C374.60,166.33 373.90,164.67 373.20,163.00 C372.50,161.33 371.68,159.67 371.10,158.00 C370.52,156.33 369.93,154.67 369.70,153.00 C369.47,151.33 369.65,149.67 369.75,148.00 C369.85,146.33 370.06,144.67 370.30,143.00 C370.54,141.33 370.87,139.67 371.20,138.00 C371.53,136.33 371.90,134.67 372.30,133.00 C372.70,131.33 373.12,129.67 373.60,128.00 C374.08,126.33 374.58,124.67 375.20,123.00 C375.82,121.33 376.75,119.67 377.30,118.00 C377.85,116.33 378.13,114.67 378.50,113.00 C378.87,111.33 379.18,109.67 379.50,108.00 C379.82,106.33 380.13,104.67 380.40,103.00 C380.67,101.33 380.92,99.67 381.10,98.00 C381.28,96.33 381.43,94.67 381.50,93.00 C381.57,91.33 381.50,89.67 381.50,88.00 C381.50,86.33 381.46,84.67 381.50,83.00 C381.54,81.33 381.70,79.67 381.75,78.00 C381.80,76.33 381.79,74.67 381.80,73.00 C381.81,71.33 381.80,69.67 381.80,68.00 C381.80,66.33 381.80,64.67 381.80,63.00 C381.80,61.33 381.72,59.33 381.80,58.00 C381.88,56.67 382.15,56.33 382.30,55.00 C382.45,53.67 382.55,51.67 382.70,50.00 C382.85,48.33 383.00,46.67 383.20,45.00 C383.40,43.33 383.70,41.67 383.90,40.00 C384.10,38.33 384.18,36.35 384.40,35.00 C384.62,33.65 385.07,32.42 385.20,31.90 Z" fill="#7fc97f" fill-opacity="0.42" stroke="#333333" stroke-width="0.8"/>
<line x1="385.30" x2="385.30" y1="31.90" y2="35.00" stroke="#333333" stroke-width="0.9"/>
<line x1="385.30" x2="385.30" y1="220.00" y2="226.70" stroke="#333333" stroke-width="0.9"/>
<line x1="385.30" x2="385.30" y1="74.40" y2="123.90" stroke="#555555" stroke-width="0.7"/>
<line x1="385.30" x2="385.30" y1="160.10" y2="203.00" stroke="#555555" stroke-width="0.7"/>
<rect x="383.05" y="123.90" width="4.50" height="36.20" fill="#7fc97f" fill-opacity="0.88" stroke="#333333" stroke-width="0.6"/>
<line x1="383.05" x2="387.55" y1="143.60" y2="143.60" stroke="#1a1a1a" stroke-width="1.1"/>
<circle cx="385.30" cy="31.90" r="1.45" fill="#333333"/>
<circle cx="385.30" cy="53.20" r="1.45" fill="#333333"/>
<circle cx="385.30" cy="54.00" r="1.45" fill="#333333"/>
<circle cx="385.30" cy="58.80" r="1.45" fill="#333333"/>
<circle cx="385.30" cy="59.60" r="1.45" fill="#333333"/>
<circle cx="385.30" cy="64.60" r="1.45" fill="#333333"/>
<circle cx="385.30" cy="214.90" r="1.45" fill="#333333"/>
<circle cx="385.30" cy="216.80" r="1.45" fill="#333333"/>
<circle cx="385.30" cy="226.30" r="1.45" fill="#333333"/>
<path d="M429.80,37.20 C429.80,40.17 429.78,51.53 429.80,55.00 C429.82,58.47 429.83,56.67 429.90,58.00 C429.98,59.33 430.12,61.33 430.25,63.00 C430.38,64.67 430.54,66.33 430.70,68.00 C430.86,69.67 431.02,71.33 431.20,73.00 C431.38,74.67 431.63,76.33 431.80,78.00 C431.97,79.67 432.02,81.33 432.20,83.00 C432.38,84.67 432.63,86.33 432.85,88.00 C433.07,89.67 433.27,91.33 433.50,93.00 C433.73,94.67 433.97,96.33 434.20,98.00 C434.43,99.67 434.63,101.33 434.90,103.00 C435.17,104.67 435.53,106.33 435.80,108.00 C436.07,109.67 436.25,111.33 436.50,113.00 C436.75,114.67 436.97,116.33 437.30,118.00 C437.63,119.67 438.08,121.33 438.50,123.00 C438.92,124.67 439.40,126.33 439.80,128.00 C440.20,129.67 440.55,131.33 440.90,133.00 C441.25,134.67 441.58,136.33 441.90,138.00 C442.22,139.67 442.48,141.33 442.80,143.00 C443.12,144.67 443.57,146.33 443.80,148.00 C444.03,149.67 444.08,151.33 444.20,153.00 C444.32,154.67 444.45,156.33 444.50,158.00 C444.55,159.67 444.57,161.33 444.50,163.00 C444.43,164.67 444.32,166.33 444.10,168.00 C443.88,169.67 443.63,171.33 443.20,173.00 C442.77,174.67 442.05,176.33 441.50,178.00 C440.95,179.67 440.38,181.33 439.90,183.00 C439.42,184.67 439.05,186.33 438.60,188.00 C438.15,189.67 437.68,191.33 437.20,193.00 C436.72,194.67 436.17,196.33 435.70,198.00 C435.23,199.67 434.77,201.33 434.40,203.00 C434.03,204.67 433.78,206.83 433.50,208.00 C433.22,209.17 432.95,208.83 432.70,210.00 C432.45,211.17 432.22,213.50 432.00,215.00 C431.78,216.50 431.67,218.22 431.40,219.00 C431.13,219.78 430.57,219.58 430.40,219.70 L429.20,219.70 C429.03,219.58 428.47,219.78 428.20,219.00 C427.93,218.22 427.82,216.50 427.60,215.00 C427.38,213.50 427.15,211.17 426.90,210.00 C426.65,208.83 426.38,209.17 426.10,208.00 C425.82,206.83 425.57,204.67 425.20,203.00 C424.83,201.33 424.37,199.67 423.90,198.00 C423.43,196.33 422.88,194.67 422.40,193.00 C421.92,191.33 421.45,189.67 421.00,188.00 C420.55,186.33 420.18,184.67 419.70,183.00 C419.22,181.33 418.65,179.67 418.10,178.00 C417.55,176.33 416.83,174.67 416.40,173.00 C415.97,171.33 415.72,169.67 415.50,168.00 C415.28,166.33 415.17,164.67 415.10,163.00 C415.03,161.33 415.05,159.67 415.10,158.00 C415.15,156.33 415.28,154.67 415.40,153.00 C415.52,151.33 415.57,149.67 415.80,148.00 C416.03,146.33 416.48,144.67 416.80,143.00 C417.12,141.33 417.38,139.67 417.70,138.00 C418.02,136.33 418.35,134.67 418.70,133.00 C419.05,131.33 419.40,129.67 419.80,128.00 C420.20,126.33 420.68,124.67 421.10,123.00 C421.52,121.33 421.97,119.67 422.30,118.00 C422.63,116.33 422.85,114.67 423.10,113.00 C423.35,111.33 423.53,109.67 423.80,108.00 C424.07,106.33 424.43,104.67 424.70,103.00 C424.97,101.33 425.17,99.67 425.40,98.00 C425.63,96.33 425.88,94.67 426.10,93.00 C426.33,91.33 426.53,89.67 426.75,88.00 C426.97,86.33 427.23,84.67 427.40,83.00 C427.58,81.33 427.63,79.67 427.80,78.00 C427.97,76.33 428.22,74.67 428.40,73.00 C428.58,71.33 428.74,69.67 428.90,68.00 C429.06,66.33 429.22,64.67 429.35,63.00 C429.48,61.33 429.62,59.33 429.70,58.00 C429.77,56.67 429.78,58.47 429.80,55.00 C429.82,51.53 429.80,40.17 429.80,37.20 Z" fill="#beaed4" fill-opacity="0.42" stroke="#333333" stroke-width="0.8"/>
<line x1="429.80" x2="429.80" y1="37.20" y2="68.00" stroke="#333333" stroke-width="0.9"/>
<line x1="429.80" x2="429.80" y1="219.00" y2="219.70" stroke="#333333" stroke-width="0.9"/>
<line x1="429.80" x2="429.80" y1="37.20" y2="128.50" stroke="#555555" stroke-width="0.7"/>
<line x1="429.80" x2="429.80" y1="173.20" y2="217.00" stroke="#555555" stroke-width="0.7"/>
<rect x="427.55" y="128.50" width="4.50" height="44.70" fill="#beaed4" fill-opacity="0.88" stroke="#333333" stroke-width="0.6"/>
<line x1="427.55" x2="432.05" y1="153.30" y2="153.30" stroke="#1a1a1a" stroke-width="1.1"/>
<circle cx="429.80" cy="37.20" r="1.45" fill="#333333"/>
<path d="M385.30,27.90 V22.40 H429.80 V27.90" fill="none" stroke="#333333" stroke-width="0.6"/>
<text x="407.55" y="0" transform="translate(0 20.25) scale(1 1.12)" text-anchor="middle" font-size="5.3" fill="#111">0.043</text>
<rect x="358.60" y="12.20" width="97.90" height="224.10" fill="none" stroke="#333333" stroke-width="0.5"/>
<rect x="358.60" y="2.30" width="97.90" height="9.90" fill="#d9d9d9" stroke="#333333" stroke-width="0.5"/>
<text x="407.55" y="9.1" text-anchor="middle" font-size="5.4" fill="#1a1a1a">TECTB</text>
<line x1="356.80" x2="358.60" y1="60.40" y2="60.40" stroke="#333333" stroke-width="0.6"/>
<text x="355.70" y="0" transform="translate(0 63.15) scale(1 1.200)" text-anchor="end" font-size="5.5" fill="#4d4d4d">3.2</text>
<line x1="356.80" x2="358.60" y1="111.76" y2="111.76" stroke="#333333" stroke-width="0.6"/>
<text x="355.70" y="0" transform="translate(0 114.51) scale(1 1.200)" text-anchor="end" font-size="5.5" fill="#4d4d4d">3.0</text>
<line x1="356.80" x2="358.60" y1="163.12" y2="163.12" stroke="#333333" stroke-width="0.6"/>
<text x="355.70" y="0" transform="translate(0 165.87) scale(1 1.200)" text-anchor="end" font-size="5.5" fill="#4d4d4d">2.8</text>
<line x1="356.80" x2="358.60" y1="214.48" y2="214.48" stroke="#333333" stroke-width="0.6"/>
<text x="355.70" y="0" transform="translate(0 217.23) scale(1 1.200)" text-anchor="end" font-size="5.5" fill="#4d4d4d">2.6</text>
<line x1="385.30" x2="385.30" y1="236.30" y2="237.90" stroke="#333333" stroke-width="0.6"/>
<text x="385.30" y="0" transform="translate(0 243.75) scale(1 1.130)" text-anchor="middle" font-size="5.95" fill="#4d4d4d">Allergy rhinitis</text>
<line x1="429.80" x2="429.80" y1="236.30" y2="237.90" stroke="#333333" stroke-width="0.6"/>
<text x="429.80" y="0" transform="translate(0 243.75) scale(1 1.130)" text-anchor="middle" font-size="5.95" fill="#4d4d4d">Control</text>
<line x1="473.50" x2="571.40" y1="44.62" y2="44.62" stroke="#ebebeb" stroke-width="0.5"/>
<line x1="473.50" x2="571.40" y1="87.48" y2="87.48" stroke="#ebebeb" stroke-width="0.5"/>
<line x1="473.50" x2="571.40" y1="130.32" y2="130.32" stroke="#ebebeb" stroke-width="0.5"/>
<line x1="473.50" x2="571.40" y1="173.17" y2="173.17" stroke="#ebebeb" stroke-width="0.5"/>
<line x1="473.50" x2="571.40" y1="216.03" y2="216.03" stroke="#ebebeb" stroke-width="0.5"/>
<line x1="473.50" x2="571.40" y1="23.20" y2="23.20" stroke="#ebebeb" stroke-width="0.85"/>
<line x1="473.50" x2="571.40" y1="66.05" y2="66.05" stroke="#ebebeb" stroke-width="0.85"/>
<line x1="473.50" x2="571.40" y1="108.90" y2="108.90" stroke="#ebebeb" stroke-width="0.85"/>
<line x1="473.50" x2="571.40" y1="151.75" y2="151.75" stroke="#ebebeb" stroke-width="0.85"/>
<line x1="473.50" x2="571.40" y1="194.60" y2="194.60" stroke="#ebebeb" stroke-width="0.85"/>
<line x1="500.20" x2="500.20" y1="12.20" y2="236.30" stroke="#ebebeb" stroke-width="0.85"/>
<line x1="544.70" x2="544.70" y1="12.20" y2="236.30" stroke="#ebebeb" stroke-width="0.85"/>
<path d="M500.60,64.20 C500.72,64.30 501.13,64.50 501.30,64.80 C501.47,65.10 501.48,65.13 501.60,66.00 C501.72,66.87 501.88,68.50 502.00,70.00 C502.12,71.50 502.20,73.33 502.30,75.00 C502.40,76.67 502.50,78.33 502.60,80.00 C502.70,81.67 502.77,83.33 502.90,85.00 C503.02,86.67 503.22,88.33 503.35,90.00 C503.48,91.67 503.49,93.33 503.70,95.00 C503.91,96.67 504.23,98.33 504.60,100.00 C504.97,101.67 505.40,103.33 505.90,105.00 C506.40,106.67 507.07,108.33 507.60,110.00 C508.13,111.67 508.62,113.33 509.10,115.00 C509.58,116.67 510.10,118.33 510.50,120.00 C510.90,121.67 511.23,123.33 511.50,125.00 C511.77,126.67 512.00,128.33 512.10,130.00 C512.20,131.67 512.15,133.33 512.10,135.00 C512.05,136.67 511.80,138.33 511.80,140.00 C511.80,141.67 512.00,143.33 512.10,145.00 C512.20,146.67 512.32,148.33 512.40,150.00 C512.48,151.67 512.65,153.33 512.60,155.00 C512.55,156.67 512.40,158.33 512.10,160.00 C511.80,161.67 511.23,163.33 510.80,165.00 C510.37,166.67 509.97,168.33 509.50,170.00 C509.03,171.67 508.42,173.33 508.00,175.00 C507.58,176.67 507.33,178.33 507.00,180.00 C506.67,181.67 506.43,183.33 506.00,185.00 C505.57,186.67 504.92,188.33 504.40,190.00 C503.88,191.67 503.27,193.33 502.90,195.00 C502.53,196.67 502.38,198.33 502.20,200.00 C502.02,201.67 501.92,203.33 501.80,205.00 C501.68,206.67 501.62,209.00 501.50,210.00 C501.38,211.00 501.28,210.75 501.10,211.00 C500.92,211.25 500.52,211.42 500.40,211.50 L500.00,211.50 C499.88,211.42 499.48,211.25 499.30,211.00 C499.12,210.75 499.02,211.00 498.90,210.00 C498.78,209.00 498.72,206.67 498.60,205.00 C498.48,203.33 498.38,201.67 498.20,200.00 C498.02,198.33 497.87,196.67 497.50,195.00 C497.13,193.33 496.52,191.67 496.00,190.00 C495.48,188.33 494.83,186.67 494.40,185.00 C493.97,183.33 493.73,181.67 493.40,180.00 C493.07,178.33 492.82,176.67 492.40,175.00 C491.98,173.33 491.37,171.67 490.90,170.00 C490.43,168.33 490.03,166.67 489.60,165.00 C489.17,163.33 488.60,161.67 488.30,160.00 C488.00,158.33 487.85,156.67 487.80,155.00 C487.75,153.33 487.92,151.67 488.00,150.00 C488.08,148.33 488.20,146.67 488.30,145.00 C488.40,143.33 488.60,141.67 488.60,140.00 C488.60,138.33 488.35,136.67 488.30,135.00 C488.25,133.33 488.20,131.67 488.30,130.00 C488.40,128.33 488.63,126.67 488.90,125.00 C489.17,123.33 489.50,121.67 489.90,120.00 C490.30,118.33 490.82,116.67 491.30,115.00 C491.78,113.33 492.27,111.67 492.80,110.00 C493.33,108.33 494.00,106.67 494.50,105.00 C495.00,103.33 495.43,101.67 495.80,100.00 C496.17,98.33 496.49,96.67 496.70,95.00 C496.91,93.33 496.92,91.67 497.05,90.00 C497.18,88.33 497.38,86.67 497.50,85.00 C497.62,83.33 497.70,81.67 497.80,80.00 C497.90,78.33 498.00,76.67 498.10,75.00 C498.20,73.33 498.28,71.50 498.40,70.00 C498.52,68.50 498.68,66.87 498.80,66.00 C498.92,65.13 498.93,65.10 499.10,64.80 C499.27,64.50 499.68,64.30 499.80,64.20 Z" fill="#7fc97f" fill-opacity="0.42" stroke="#333333" stroke-width="0.8"/>
<line x1="500.20" x2="500.20" y1="64.20" y2="64.80" stroke="#333333" stroke-width="0.9"/>
<line x1="500.20" x2="500.20" y1="70.00" y2="125.30" stroke="#555555" stroke-width="0.7"/>
<line x1="500.20" x2="500.20" y1="162.90" y2="203.00" stroke="#555555" stroke-width="0.7"/>
<rect x="497.95" y="125.30" width="4.50" height="37.60" fill="#7fc97f" fill-opacity="0.88" stroke="#333333" stroke-width="0.6"/>
<line x1="497.95" x2="502.45" y1="143.70" y2="143.70" stroke="#1a1a1a" stroke-width="1.1"/>
<circle cx="500.20" cy="64.30" r="1.45" fill="#333333"/>
<path d="M544.70,31.80 C544.72,36.50 544.75,53.80 544.80,60.00 C544.85,66.20 544.92,67.33 545.00,69.00 C545.08,70.67 545.15,69.00 545.30,70.00 C545.45,71.00 545.68,73.33 545.90,75.00 C546.12,76.67 546.33,78.33 546.60,80.00 C546.87,81.67 547.17,83.33 547.50,85.00 C547.83,86.67 548.27,88.33 548.60,90.00 C548.93,91.67 549.20,93.33 549.50,95.00 C549.80,96.67 550.07,98.33 550.40,100.00 C550.73,101.67 551.17,103.33 551.50,105.00 C551.83,106.67 552.10,108.33 552.40,110.00 C552.70,111.67 552.98,113.33 553.30,115.00 C553.62,116.67 553.85,118.33 554.30,120.00 C554.75,121.67 555.42,123.33 556.00,125.00 C556.58,126.67 557.28,128.33 557.80,130.00 C558.32,131.67 558.75,133.33 559.10,135.00 C559.45,136.67 559.73,138.33 559.90,140.00 C560.07,141.67 560.25,143.33 560.10,145.00 C559.95,146.67 559.55,148.33 559.00,150.00 C558.45,151.67 557.42,153.33 556.80,155.00 C556.18,156.67 555.80,158.33 555.30,160.00 C554.80,161.67 554.27,163.33 553.80,165.00 C553.33,166.67 552.92,168.33 552.50,170.00 C552.08,171.67 551.65,173.33 551.30,175.00 C550.95,176.67 550.72,178.33 550.40,180.00 C550.08,181.67 549.78,183.33 549.40,185.00 C549.02,186.67 548.52,188.33 548.10,190.00 C547.68,191.67 547.23,193.33 546.90,195.00 C546.57,196.67 546.32,198.33 546.10,200.00 C545.88,201.67 545.73,203.33 545.60,205.00 C545.47,206.67 545.45,206.43 545.30,210.00 C545.15,213.57 544.80,223.67 544.70,226.40 L544.70,226.40 C544.60,223.67 544.25,213.57 544.10,210.00 C543.95,206.43 543.93,206.67 543.80,205.00 C543.67,203.33 543.52,201.67 543.30,200.00 C543.08,198.33 542.83,196.67 542.50,195.00 C542.17,193.33 541.72,191.67 541.30,190.00 C540.88,188.33 540.38,186.67 540.00,185.00 C539.62,183.33 539.32,181.67 539.00,180.00 C538.68,178.33 538.45,176.67 538.10,175.00 C537.75,173.33 537.32,171.67 536.90,170.00 C536.48,168.33 536.07,166.67 535.60,165.00 C535.13,163.33 534.60,161.67 534.10,160.00 C533.60,158.33 533.22,156.67 532.60,155.00 C531.98,153.33 530.95,151.67 530.40,150.00 C529.85,148.33 529.45,146.67 529.30,145.00 C529.15,143.33 529.33,141.67 529.50,140.00 C529.67,138.33 529.95,136.67 530.30,135.00 C530.65,133.33 531.08,131.67 531.60,130.00 C532.12,128.33 532.82,126.67 533.40,125.00 C533.98,123.33 534.65,121.67 535.10,120.00 C535.55,118.33 535.78,116.67 536.10,115.00 C536.42,113.33 536.70,111.67 537.00,110.00 C537.30,108.33 537.57,106.67 537.90,105.00 C538.23,103.33 538.67,101.67 539.00,100.00 C539.33,98.33 539.60,96.67 539.90,95.00 C540.20,93.33 540.47,91.67 540.80,90.00 C541.13,88.33 541.57,86.67 541.90,85.00 C542.23,83.33 542.53,81.67 542.80,80.00 C543.07,78.33 543.28,76.67 543.50,75.00 C543.72,73.33 543.95,71.00 544.10,70.00 C544.25,69.00 544.32,70.67 544.40,69.00 C544.48,67.33 544.55,66.20 544.60,60.00 C544.65,53.80 544.68,36.50 544.70,31.80 Z" fill="#beaed4" fill-opacity="0.42" stroke="#333333" stroke-width="0.8"/>
<line x1="544.70" x2="544.70" y1="31.80" y2="75.00" stroke="#333333" stroke-width="0.9"/>
<line x1="544.70" x2="544.70" y1="205.00" y2="226.40" stroke="#333333" stroke-width="0.9"/>
<line x1="544.70" x2="544.70" y1="31.80" y2="121.60" stroke="#555555" stroke-width="0.7"/>
<line x1="544.70" x2="544.70" y1="156.80" y2="226.40" stroke="#555555" stroke-width="0.7"/>
<rect x="542.45" y="121.60" width="4.50" height="35.20" fill="#beaed4" fill-opacity="0.88" stroke="#333333" stroke-width="0.6"/>
<line x1="542.45" x2="546.95" y1="139.30" y2="139.30" stroke="#1a1a1a" stroke-width="1.1"/>
<circle cx="544.70" cy="31.80" r="1.45" fill="#333333"/>
<circle cx="544.70" cy="226.40" r="1.45" fill="#333333"/>
<path d="M500.20,27.90 V22.40 H544.70 V27.90" fill="none" stroke="#333333" stroke-width="0.6"/>
<text x="522.45" y="0" transform="translate(0 20.25) scale(1 1.12)" text-anchor="middle" font-size="5.3" fill="#111">0.29</text>
<rect x="473.50" y="12.20" width="97.90" height="224.10" fill="none" stroke="#333333" stroke-width="0.5"/>
<rect x="473.50" y="2.30" width="97.90" height="9.90" fill="#d9d9d9" stroke="#333333" stroke-width="0.5"/>
<text x="522.45" y="9.1" text-anchor="middle" font-size="5.4" fill="#1a1a1a">VTI1A</text>
<line x1="471.70" x2="473.50" y1="23.20" y2="23.20" stroke="#333333" stroke-width="0.6"/>
<text x="470.60" y="0" transform="translate(0 25.95) scale(1 1.200)" text-anchor="end" font-size="5.5" fill="#4d4d4d">6.50</text>
<line x1="471.70" x2="473.50" y1="66.05" y2="66.05" stroke="#333333" stroke-width="0.6"/>
<text x="470.60" y="0" transform="translate(0 68.80) scale(1 1.200)" text-anchor="end" font-size="5.5" fill="#4d4d4d">6.25</text>
<line x1="471.70" x2="473.50" y1="108.90" y2="108.90" stroke="#333333" stroke-width="0.6"/>
<text x="470.60" y="0" transform="translate(0 111.65) scale(1 1.200)" text-anchor="end" font-size="5.5" fill="#4d4d4d">6.00</text>
<line x1="471.70" x2="473.50" y1="151.75" y2="151.75" stroke="#333333" stroke-width="0.6"/>
<text x="470.60" y="0" transform="translate(0 154.50) scale(1 1.200)" text-anchor="end" font-size="5.5" fill="#4d4d4d">5.75</text>
<line x1="471.70" x2="473.50" y1="194.60" y2="194.60" stroke="#333333" stroke-width="0.6"/>
<text x="470.60" y="0" transform="translate(0 197.35) scale(1 1.200)" text-anchor="end" font-size="5.5" fill="#4d4d4d">5.50</text>
<line x1="500.20" x2="500.20" y1="236.30" y2="237.90" stroke="#333333" stroke-width="0.6"/>
<text x="500.20" y="0" transform="translate(0 243.75) scale(1 1.130)" text-anchor="middle" font-size="5.95" fill="#4d4d4d">Allergy rhinitis</text>
<line x1="544.70" x2="544.70" y1="236.30" y2="237.90" stroke="#333333" stroke-width="0.6"/>
<text x="544.70" y="0" transform="translate(0 243.75) scale(1 1.130)" text-anchor="middle" font-size="5.95" fill="#4d4d4d">Control</text>
<line x1="585.40" x2="683.00" y1="60.08" y2="60.08" stroke="#ebebeb" stroke-width="0.5"/>
<line x1="585.40" x2="683.00" y1="126.25" y2="126.25" stroke="#ebebeb" stroke-width="0.5"/>
<line x1="585.40" x2="683.00" y1="192.41" y2="192.41" stroke="#ebebeb" stroke-width="0.5"/>
<line x1="585.40" x2="683.00" y1="27.00" y2="27.00" stroke="#ebebeb" stroke-width="0.85"/>
<line x1="585.40" x2="683.00" y1="93.17" y2="93.17" stroke="#ebebeb" stroke-width="0.85"/>
<line x1="585.40" x2="683.00" y1="159.33" y2="159.33" stroke="#ebebeb" stroke-width="0.85"/>
<line x1="585.40" x2="683.00" y1="225.50" y2="225.50" stroke="#ebebeb" stroke-width="0.85"/>
<line x1="612.02" x2="612.02" y1="12.20" y2="236.30" stroke="#ebebeb" stroke-width="0.85"/>
<line x1="656.38" x2="656.38" y1="12.20" y2="236.30" stroke="#ebebeb" stroke-width="0.85"/>
<path d="M612.02,31.80 C612.03,36.50 612.07,53.30 612.12,60.00 C612.17,66.70 612.25,69.50 612.32,72.00 C612.38,74.50 612.45,73.67 612.52,75.00 C612.58,76.33 612.65,78.33 612.72,80.00 C612.78,81.67 612.83,83.33 612.92,85.00 C613.00,86.67 613.13,88.33 613.22,90.00 C613.30,91.67 613.38,93.33 613.42,95.00 C613.46,96.67 613.46,98.33 613.47,100.00 C613.48,101.67 613.43,103.33 613.47,105.00 C613.51,106.67 613.63,108.33 613.72,110.00 C613.81,111.67 613.93,113.33 614.02,115.00 C614.10,116.67 614.05,118.33 614.22,120.00 C614.38,121.67 614.57,123.33 615.02,125.00 C615.47,126.67 616.28,128.33 616.92,130.00 C617.55,131.67 618.17,133.33 618.82,135.00 C619.47,136.67 620.20,138.33 620.82,140.00 C621.43,141.67 621.94,143.33 622.52,145.00 C623.09,146.67 623.83,148.33 624.27,150.00 C624.70,151.67 624.88,153.33 625.12,155.00 C625.36,156.67 625.53,158.33 625.72,160.00 C625.90,161.67 626.07,163.33 626.22,165.00 C626.37,166.67 626.52,168.33 626.62,170.00 C626.72,171.67 626.75,173.33 626.82,175.00 C626.88,176.67 627.08,178.33 627.02,180.00 C626.95,181.67 626.80,183.33 626.42,185.00 C626.03,186.67 625.40,188.33 624.72,190.00 C624.03,191.67 623.13,193.33 622.32,195.00 C621.50,196.67 620.60,198.33 619.82,200.00 C619.03,201.67 618.33,203.33 617.62,205.00 C616.90,206.67 616.13,208.33 615.52,210.00 C614.90,211.67 614.33,213.33 613.92,215.00 C613.50,216.67 613.22,218.83 613.02,220.00 C612.82,221.17 612.87,221.60 612.72,222.00 C612.57,222.40 612.22,222.33 612.12,222.40 L611.92,222.40 C611.82,222.33 611.47,222.40 611.32,222.00 C611.17,221.60 611.22,221.17 611.02,220.00 C610.82,218.83 610.53,216.67 610.12,215.00 C609.70,213.33 609.13,211.67 608.52,210.00 C607.90,208.33 607.13,206.67 606.42,205.00 C605.70,203.33 605.00,201.67 604.22,200.00 C603.43,198.33 602.53,196.67 601.72,195.00 C600.90,193.33 600.00,191.67 599.32,190.00 C598.63,188.33 598.00,186.67 597.62,185.00 C597.23,183.33 597.08,181.67 597.02,180.00 C596.95,178.33 597.15,176.67 597.22,175.00 C597.28,173.33 597.32,171.67 597.42,170.00 C597.52,168.33 597.67,166.67 597.82,165.00 C597.97,163.33 598.13,161.67 598.32,160.00 C598.50,158.33 598.68,156.67 598.92,155.00 C599.16,153.33 599.33,151.67 599.77,150.00 C600.20,148.33 600.94,146.67 601.52,145.00 C602.09,143.33 602.60,141.67 603.22,140.00 C603.83,138.33 604.57,136.67 605.22,135.00 C605.87,133.33 606.48,131.67 607.12,130.00 C607.75,128.33 608.57,126.67 609.02,125.00 C609.47,123.33 609.65,121.67 609.82,120.00 C609.98,118.33 609.93,116.67 610.02,115.00 C610.10,113.33 610.23,111.67 610.32,110.00 C610.41,108.33 610.53,106.67 610.57,105.00 C610.61,103.33 610.56,101.67 610.57,100.00 C610.58,98.33 610.58,96.67 610.62,95.00 C610.66,93.33 610.73,91.67 610.82,90.00 C610.90,88.33 611.03,86.67 611.12,85.00 C611.20,83.33 611.25,81.67 611.32,80.00 C611.38,78.33 611.45,76.33 611.52,75.00 C611.58,73.67 611.65,74.50 611.72,72.00 C611.78,69.50 611.87,66.70 611.92,60.00 C611.97,53.30 612.00,36.50 612.02,31.80 Z" fill="#7fc97f" fill-opacity="0.42" stroke="#333333" stroke-width="0.8"/>
<line x1="612.02" x2="612.02" y1="31.80" y2="85.00" stroke="#333333" stroke-width="0.9"/>
<line x1="612.02" x2="612.02" y1="220.00" y2="222.40" stroke="#333333" stroke-width="0.9"/>
<line x1="612.02" x2="612.02" y1="93.30" y2="147.60" stroke="#555555" stroke-width="0.7"/>
<line x1="612.02" x2="612.02" y1="183.30" y2="218.00" stroke="#555555" stroke-width="0.7"/>
<rect x="609.77" y="147.60" width="4.50" height="35.70" fill="#7fc97f" fill-opacity="0.88" stroke="#333333" stroke-width="0.6"/>
<line x1="609.77" x2="614.27" y1="166.40" y2="166.40" stroke="#1a1a1a" stroke-width="1.1"/>
<circle cx="612.02" cy="31.80" r="1.45" fill="#333333"/>
<circle cx="612.02" cy="72.10" r="1.45" fill="#333333"/>
<circle cx="612.02" cy="87.60" r="1.45" fill="#333333"/>
<circle cx="612.02" cy="92.00" r="1.45" fill="#333333"/>
<path d="M656.38,40.30 C656.40,43.58 656.43,55.72 656.48,60.00 C656.53,64.28 656.58,63.50 656.68,66.00 C656.78,68.50 656.97,71.00 657.08,75.00 C657.20,79.00 657.27,86.67 657.38,90.00 C657.50,93.33 657.67,93.33 657.78,95.00 C657.90,96.67 657.98,98.33 658.08,100.00 C658.18,101.67 658.27,103.33 658.38,105.00 C658.50,106.67 658.62,108.33 658.78,110.00 C658.95,111.67 659.19,113.33 659.38,115.00 C659.57,116.67 659.72,118.33 659.93,120.00 C660.15,121.67 660.37,123.33 660.68,125.00 C660.99,126.67 661.42,128.33 661.78,130.00 C662.15,131.67 662.48,133.33 662.88,135.00 C663.28,136.67 663.73,138.33 664.18,140.00 C664.63,141.67 665.07,143.33 665.58,145.00 C666.10,146.67 666.73,148.33 667.28,150.00 C667.83,151.67 668.38,153.33 668.88,155.00 C669.38,156.67 669.88,158.33 670.28,160.00 C670.68,161.67 671.02,163.33 671.28,165.00 C671.55,166.67 671.77,168.33 671.88,170.00 C672.00,171.67 672.01,173.33 671.98,175.00 C671.96,176.67 671.95,178.33 671.73,180.00 C671.52,181.67 671.17,183.33 670.68,185.00 C670.19,186.67 669.47,188.33 668.78,190.00 C668.10,191.67 667.32,193.33 666.58,195.00 C665.85,196.67 665.10,198.33 664.38,200.00 C663.67,201.67 662.94,203.33 662.28,205.00 C661.62,206.67 661.03,208.33 660.43,210.00 C659.83,211.67 659.12,213.33 658.68,215.00 C658.24,216.67 658.03,218.33 657.78,220.00 C657.53,221.67 657.40,223.95 657.18,225.00 C656.97,226.05 656.60,226.08 656.48,226.30 L656.28,226.30 C656.17,226.08 655.80,226.05 655.58,225.00 C655.37,223.95 655.23,221.67 654.98,220.00 C654.73,218.33 654.52,216.67 654.08,215.00 C653.64,213.33 652.93,211.67 652.33,210.00 C651.73,208.33 651.14,206.67 650.48,205.00 C649.82,203.33 649.10,201.67 648.38,200.00 C647.67,198.33 646.92,196.67 646.18,195.00 C645.45,193.33 644.67,191.67 643.98,190.00 C643.30,188.33 642.57,186.67 642.08,185.00 C641.59,183.33 641.25,181.67 641.03,180.00 C640.82,178.33 640.81,176.67 640.78,175.00 C640.76,173.33 640.77,171.67 640.88,170.00 C641.00,168.33 641.22,166.67 641.48,165.00 C641.75,163.33 642.08,161.67 642.48,160.00 C642.88,158.33 643.38,156.67 643.88,155.00 C644.38,153.33 644.93,151.67 645.48,150.00 C646.03,148.33 646.67,146.67 647.18,145.00 C647.70,143.33 648.13,141.67 648.58,140.00 C649.03,138.33 649.48,136.67 649.88,135.00 C650.28,133.33 650.62,131.67 650.98,130.00 C651.35,128.33 651.77,126.67 652.08,125.00 C652.39,123.33 652.62,121.67 652.83,120.00 C653.05,118.33 653.19,116.67 653.38,115.00 C653.57,113.33 653.82,111.67 653.98,110.00 C654.15,108.33 654.27,106.67 654.38,105.00 C654.50,103.33 654.58,101.67 654.68,100.00 C654.78,98.33 654.87,96.67 654.98,95.00 C655.10,93.33 655.27,93.33 655.38,90.00 C655.50,86.67 655.57,79.00 655.68,75.00 C655.80,71.00 655.98,68.50 656.08,66.00 C656.18,63.50 656.23,64.28 656.28,60.00 C656.33,55.72 656.37,43.58 656.38,40.30 Z" fill="#beaed4" fill-opacity="0.42" stroke="#333333" stroke-width="0.8"/>
<line x1="656.38" x2="656.38" y1="40.30" y2="90.00" stroke="#333333" stroke-width="0.9"/>
<line x1="656.38" x2="656.38" y1="220.00" y2="226.30" stroke="#333333" stroke-width="0.9"/>
<line x1="656.38" x2="656.38" y1="40.30" y2="147.60" stroke="#555555" stroke-width="0.7"/>
<line x1="656.38" x2="656.38" y1="182.00" y2="226.30" stroke="#555555" stroke-width="0.7"/>
<rect x="654.13" y="147.60" width="4.50" height="34.40" fill="#beaed4" fill-opacity="0.88" stroke="#333333" stroke-width="0.6"/>
<line x1="654.13" x2="658.63" y1="166.70" y2="166.70" stroke="#1a1a1a" stroke-width="1.1"/>
<circle cx="656.38" cy="40.30" r="1.45" fill="#333333"/>
<circle cx="656.38" cy="65.90" r="1.45" fill="#333333"/>
<circle cx="656.38" cy="82.30" r="1.45" fill="#333333"/>
<circle cx="656.38" cy="85.00" r="1.45" fill="#333333"/>
<circle cx="656.38" cy="92.00" r="1.45" fill="#333333"/>
<circle cx="656.38" cy="226.30" r="1.45" fill="#333333"/>
<path d="M612.02,27.90 V22.40 H656.38 V27.90" fill="none" stroke="#333333" stroke-width="0.6"/>
<text x="634.20" y="0" transform="translate(0 20.25) scale(1 1.12)" text-anchor="middle" font-size="5.3" fill="#111">0.8</text>
<rect x="585.40" y="12.20" width="97.60" height="224.10" fill="none" stroke="#333333" stroke-width="0.5"/>
<rect x="585.40" y="2.30" width="97.60" height="9.90" fill="#d9d9d9" stroke="#333333" stroke-width="0.5"/>
<text x="634.20" y="9.1" text-anchor="middle" font-size="5.4" fill="#1a1a1a">ZDHHC6</text>
<line x1="583.60" x2="585.40" y1="27.00" y2="27.00" stroke="#333333" stroke-width="0.6"/>
<text x="582.50" y="0" transform="translate(0 29.75) scale(1 1.200)" text-anchor="end" font-size="5.5" fill="#4d4d4d">2.5</text>
<line x1="583.60" x2="585.40" y1="93.17" y2="93.17" stroke="#333333" stroke-width="0.6"/>
<text x="582.50" y="0" transform="translate(0 95.92) scale(1 1.200)" text-anchor="end" font-size="5.5" fill="#4d4d4d">2.0</text>
<line x1="583.60" x2="585.40" y1="159.33" y2="159.33" stroke="#333333" stroke-width="0.6"/>
<text x="582.50" y="0" transform="translate(0 162.08) scale(1 1.200)" text-anchor="end" font-size="5.5" fill="#4d4d4d">1.5</text>
<line x1="583.60" x2="585.40" y1="225.50" y2="225.50" stroke="#333333" stroke-width="0.6"/>
<text x="582.50" y="0" transform="translate(0 228.25) scale(1 1.200)" text-anchor="end" font-size="5.5" fill="#4d4d4d">1.0</text>
<line x1="612.02" x2="612.02" y1="236.30" y2="237.90" stroke="#333333" stroke-width="0.6"/>
<text x="612.02" y="0" transform="translate(0 243.75) scale(1 1.130)" text-anchor="middle" font-size="5.95" fill="#4d4d4d">Allergy rhinitis</text>
<line x1="656.38" x2="656.38" y1="236.30" y2="237.90" stroke="#333333" stroke-width="0.6"/>
<text x="656.38" y="0" transform="translate(0 243.75) scale(1 1.130)" text-anchor="middle" font-size="5.95" fill="#4d4d4d">Control</text>
</svg></body></html>
